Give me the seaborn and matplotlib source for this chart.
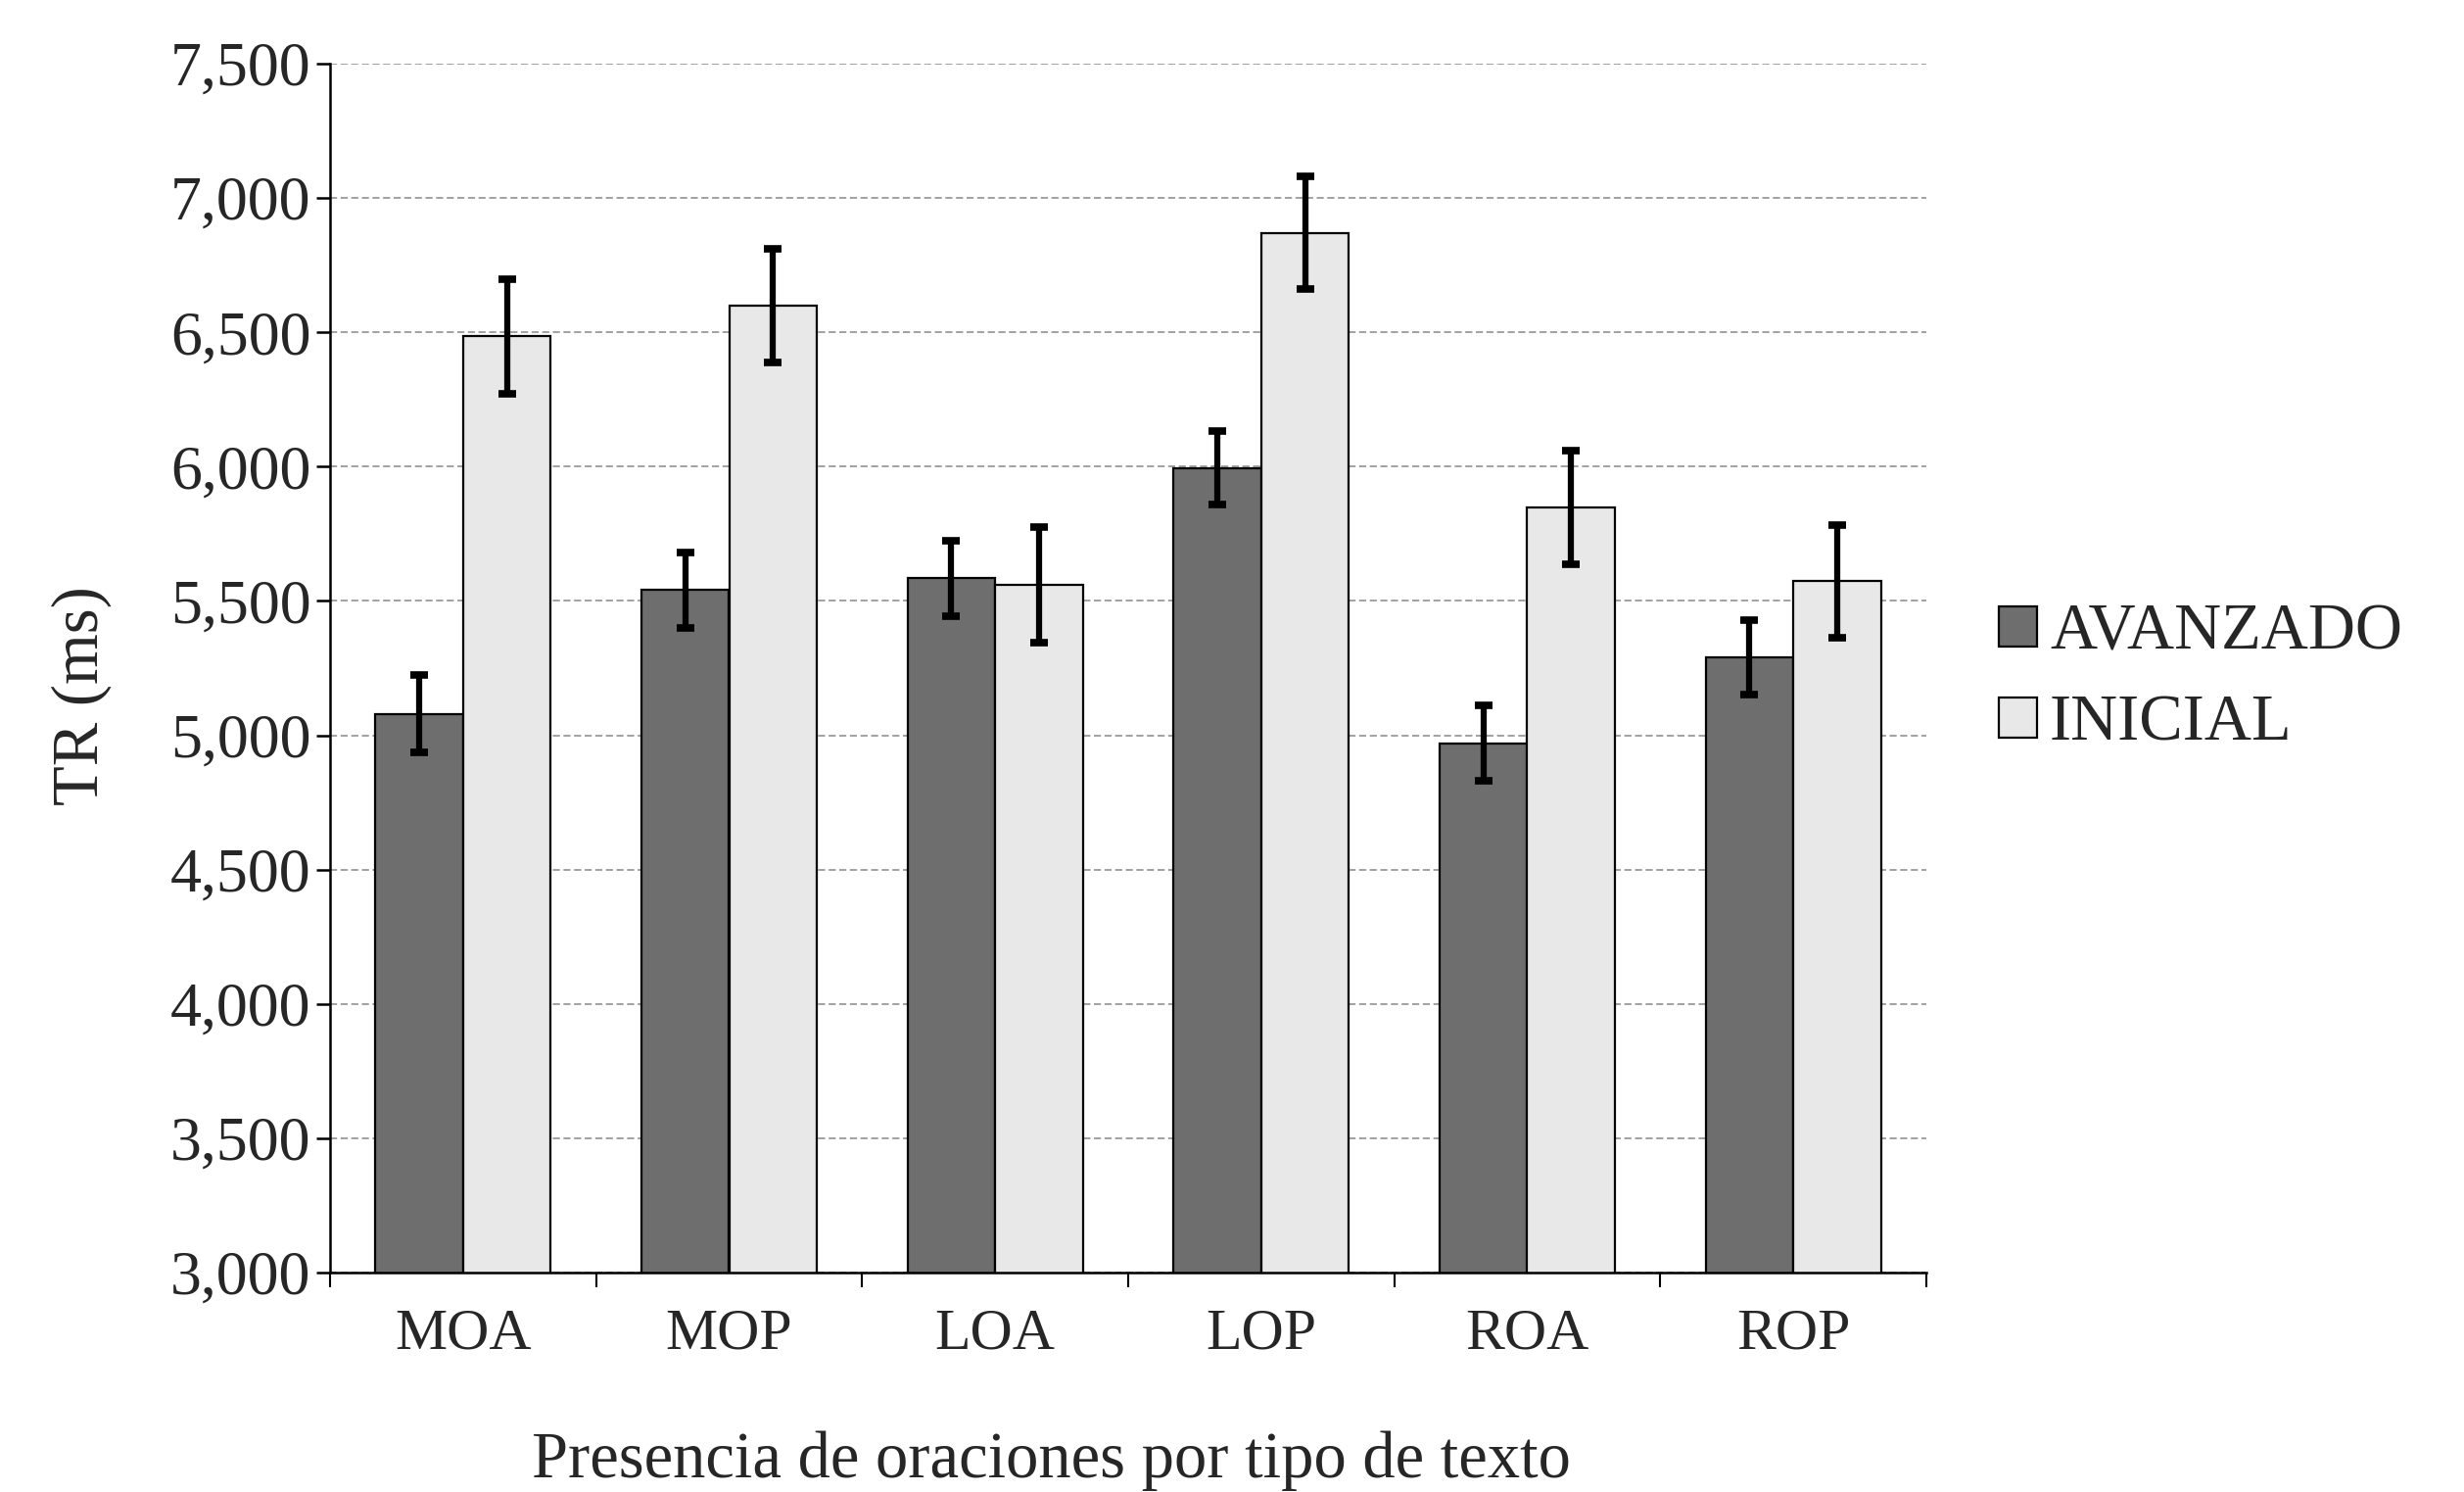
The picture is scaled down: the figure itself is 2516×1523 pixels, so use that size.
import numpy as np
import pandas as pd
import matplotlib
matplotlib.use("Agg")
import matplotlib.pyplot as plt
import seaborn as sns

categories = ["MOA", "MOP", "LOA", "LOP", "ROA", "ROP"]
groups = ["AVANZADO", "INICIAL"]
avanzado = [5080, 5540, 5585, 5995, 4970, 5290]
avanzado_err = [145, 140, 140, 137, 140, 140]
inicial = [6485, 6600, 5560, 6870, 5848, 5573]
inicial_err = [213, 212, 215, 210, 210, 210]
y_ticks = [3000, 3500, 4000, 4500, 5000, 5500, 6000, 6500, 7000, 7500]

sns.set_theme(style="white")
plt.rcParams["font.family"] = ["Liberation Serif", "DejaVu Serif"]

df = pd.DataFrame({
    "cat": categories * 2,
    "grupo": [groups[0]] * len(categories) + [groups[1]] * len(categories),
    "tr": avanzado + inicial,
    "err": avanzado_err + inicial_err,
})

fig = plt.figure(figsize=(25.16, 15.23), dpi=100)
ax = fig.add_axes([337 / 2516, 1 - 1299 / 1523, 1630 / 2516, 1234 / 1523])

palette = {"AVANZADO": "#6e6e6e", "INICIAL": "#e8e8e8"}
sns.barplot(data=df, x="cat", y="tr", hue="grupo", order=categories,
            hue_order=groups, palette=palette, width=0.66, gap=0,
            errorbar=None, edgecolor="black", linewidth=1.6, ax=ax,
            saturation=1, zorder=2)

# error bars at bar centers
for gi, g in enumerate(groups):
    sub = df[df["grupo"] == g]
    cont = ax.containers[gi]
    xs = [b.get_x() + b.get_width() / 2 for b in cont]
    ax.errorbar(xs, sub["tr"].values, yerr=sub["err"].values, fmt="none",
                ecolor="black", elinewidth=4.5, capsize=6.5, capthick=5.5,
                zorder=4)

ax.set_ylim(3000, 7500)
ax.set_xlim(-0.5, len(categories) - 0.5)
ax.set_yticks(y_ticks)
ax.set_yticklabels([f"{v:,}" for v in y_ticks])
ax.yaxis.grid(True, linestyle=(0, (4, 2)), color="#9a9a9a", linewidth=1.3)
ax.set_axisbelow(True)

for s in ["top", "right"]:
    ax.spines[s].set_visible(False)
for s in ["left", "bottom"]:
    ax.spines[s].set_color("black")
    ax.spines[s].set_linewidth(1.8)

ax.tick_params(axis="y", which="major", direction="out", length=10, width=1.8,
               color="black", labelsize=46, pad=4, left=True)
ax.tick_params(axis="x", which="major", length=0, labelsize=43, pad=26)
ax.set_xticks(np.arange(-0.5, len(categories), 1.0), minor=True)
ax.tick_params(axis="x", which="minor", direction="out", length=11, width=1.5,
               color="black", bottom=True)

ax.set_xlabel("Presencia de oraciones por tipo de texto", fontsize=48)
ax.xaxis.set_label_coords(736 / 1630, -0.131)
ax.set_ylabel("TR (ms)", fontsize=48)
ax.yaxis.label.set_va("center")
ax.yaxis.label.set_ha("center")
ax.yaxis.set_label_coords(-0.156, 0.477)

leg = ax.legend(loc="center left", bbox_to_anchor=(2041 / 2516, 0.545),
                bbox_transform=fig.transFigure, frameon=False, fontsize=48,
                handlelength=0.58, handleheight=0.58, handletextpad=0.2,
                labelspacing=0.48, borderpad=0, borderaxespad=0)
for h in leg.legend_handles:
    h.set_edgecolor("black")
    h.set_linewidth(1.6)

fig.savefig("out.png", dpi=100)
